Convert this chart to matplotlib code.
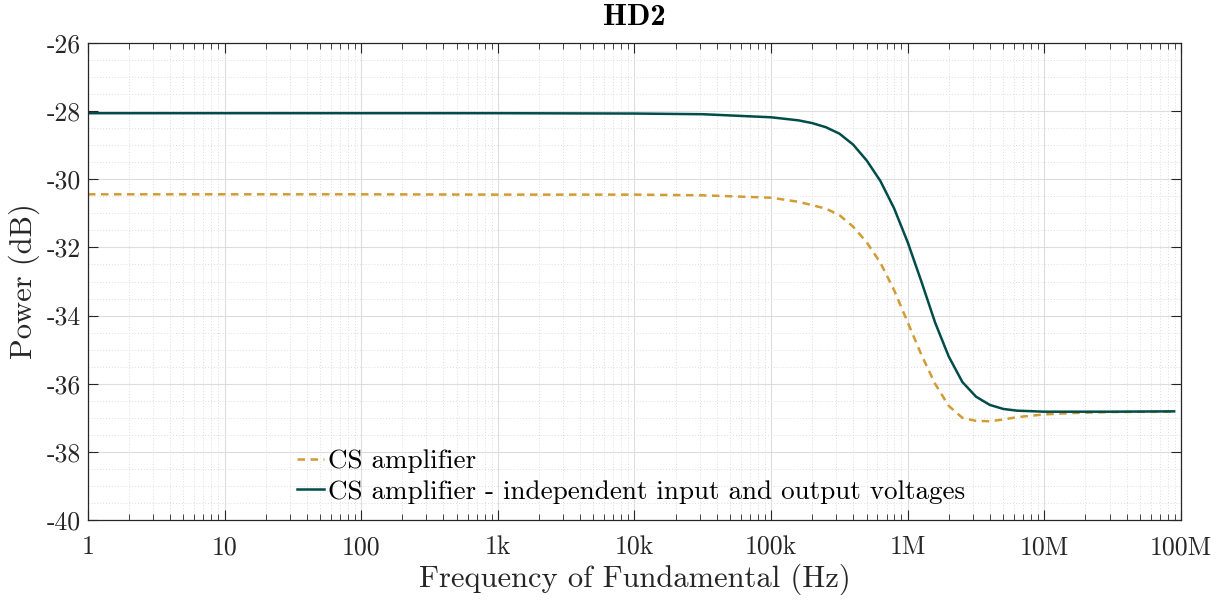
import matplotlib
matplotlib.use("Agg")
import matplotlib.pyplot as plt
from matplotlib.ticker import FixedLocator, FixedFormatter, NullFormatter

plt.rcParams['font.family'] = ['cmr10', 'DejaVu Serif']
plt.rcParams['axes.unicode_minus'] = False
plt.rcParams['mathtext.fontset'] = 'cm'
plt.rcParams['axes.formatter.use_mathtext'] = True

# ---- data ----
freq = [1, 10, 100, 1e3, 1e4, 31623, 1e5, 158489, 199526, 251189, 316228,
        398107, 501187, 630957, 794328, 1e6, 1258925, 1584893, 1995262,
        2511886, 3162278, 3981072, 5011872, 6309573, 1e7, 15848932,
        31622777, 89125094]

cs_amp = [-30.44, -30.44, -30.44, -30.45, -30.45, -30.47, -30.54, -30.66,
          -30.76, -30.86, -31.05, -31.39, -31.85, -32.45, -33.25, -34.20,
          -35.15, -36.00, -36.65, -37.00, -37.09, -37.10, -37.05, -36.98,
          -36.90, -36.86, -36.83, -36.82]

cs_indep = [-28.06, -28.06, -28.06, -28.06, -28.07, -28.09, -28.18, -28.27,
            -28.35, -28.47, -28.66, -28.98, -29.45, -30.05, -30.85, -31.85,
            -33.00, -34.20, -35.20, -35.95, -36.38, -36.62, -36.74, -36.79,
            -36.82, -36.82, -36.82, -36.81]

labels = ['CS amplifier', 'CS amplifier - independent input and output voltages']
xticks = [1, 10, 100, 1e3, 1e4, 1e5, 1e6, 1e7, 1e8]
xticklabels = ['1', '10', '100', '1k', '10k', '100k', '1M', '10M', '100M']
yticks = [-40, -38, -36, -34, -32, -30, -28, -26]
yticklabels = ['-40', '-38', '-36', '-34', '-32', '-30', '-28', '-26']

# ---- figure ----
fig = plt.figure(figsize=(12.27, 6.04), dpi=100)
ax = fig.add_axes([0.0717, 0.139, 0.8908, 0.7898])

orange = '#D19C35'
teal = '#004C4A'
ax.plot(freq, cs_amp, color=orange, lw=1.8, ls=(0, (3.0, 2.2)), label=labels[0])
ax.plot(freq, cs_indep, color=teal, lw=1.8, label=labels[1])

ax.set_xscale('log')
ax.set_xlim(1, 1e8)
ax.set_ylim(-40, -26)

ax.xaxis.set_major_locator(FixedLocator(xticks))
ax.xaxis.set_major_formatter(FixedFormatter(xticklabels))
minor_x = [m * 10 ** e for e in range(0, 8) for m in range(2, 10)]
ax.xaxis.set_minor_locator(FixedLocator(minor_x))
ax.xaxis.set_minor_formatter(NullFormatter())
ax.yaxis.set_major_locator(FixedLocator(yticks))
ax.yaxis.set_major_formatter(FixedFormatter(yticklabels))
ax.yaxis.set_minor_locator(FixedLocator([v / 2 for v in range(-80, -51)]))

axc = '#262626'
ax.tick_params(which='major', direction='in', length=7, width=0.8, colors=axc,
               labelsize=18.5, top=True, right=True)
ax.tick_params(axis='x', which='major', pad=11)
ax.tick_params(axis='y', which='major', pad=5)
ax.tick_params(axis='x', which='minor', direction='in', length=4, width=0.6,
               colors=axc, top=True)
ax.tick_params(axis='y', which='minor', length=0)
for s in ax.spines.values():
    s.set_color(axc)
    s.set_linewidth(0.9)

ax.grid(which='major', color='#DDDDDD', lw=0.8, ls='-')
ax.grid(which='minor', color='#DDDDDD', lw=0.7, ls=(0, (1, 2)))
ax.set_axisbelow(True)

ax.set_title('HD2', fontfamily='cmb10', fontsize=22, color='black', pad=13)
ax.set_xlabel('Frequency of Fundamental (Hz)', fontsize=22, color=axc, labelpad=3)
ax.set_ylabel('Power (dB)', fontsize=22, color=axc, labelpad=5)

leg = ax.legend(loc='lower left', bbox_to_anchor=(0.176, 0.0), frameon=False,
                fontsize=19.5, handlelength=1.0, handletextpad=0.15,
                labelspacing=0.25, borderaxespad=0.2)
for t in leg.get_texts():
    t.set_color('black')

fig.savefig('out.png', dpi=100)
